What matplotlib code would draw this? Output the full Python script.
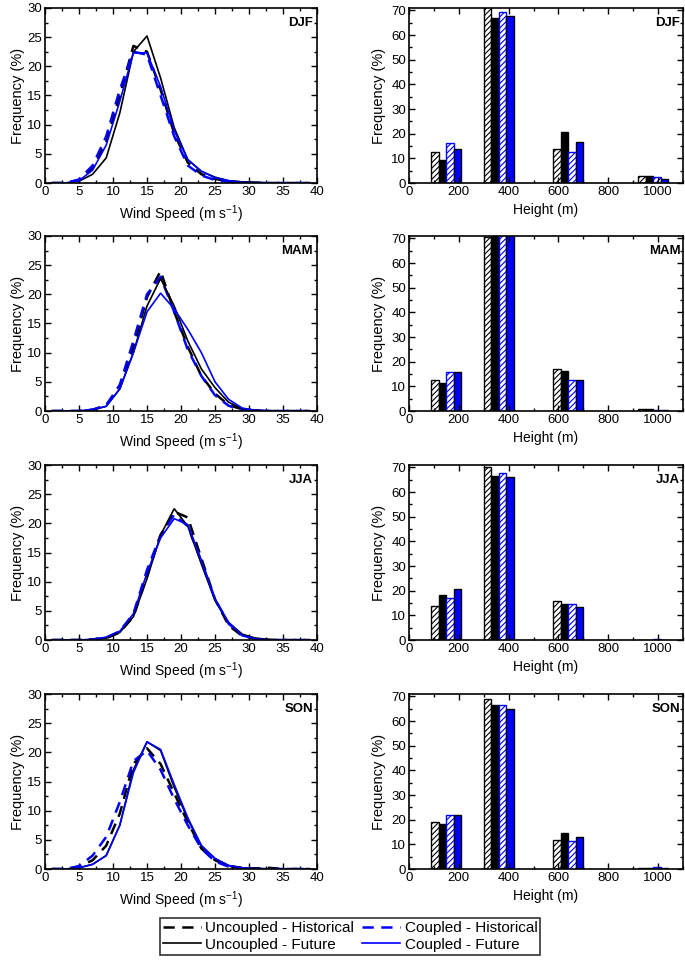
import matplotlib
matplotlib.use("Agg")
import matplotlib.pyplot as plt
from matplotlib.ticker import MultipleLocator
from matplotlib.lines import Line2D
import numpy as np

plt.rcParams['font.family'] = ['Liberation Sans', 'DejaVu Sans']
plt.rcParams['hatch.linewidth'] = 0.8
plt.rcParams['mathtext.fontset'] = 'custom'
plt.rcParams['mathtext.rm'] = 'Liberation Sans'

seasons = ["DJF", "MAM", "JJA", "SON"]

# Wind speed bin centres (m/s)
wind_bins = [1, 3, 5, 7, 9, 11, 13, 15, 17, 19, 21, 23, 25, 27, 29, 31, 33, 35, 37, 39]

# Wind speed frequency (%) per season: Uncoupled-Historical, Uncoupled-Future, Coupled-Historical, Coupled-Future
ws_unc_hist = {
    "DJF": [0, 0, 0.5, 2.5, 7.0, 15.0, 23.5, 22.5, 16.0, 8.5, 3.5, 1.5, 0.7, 0.3, 0.1, 0.05, 0, 0, 0, 0],
    "MAM": [0, 0, 0, 0.2, 1.0, 4.0, 11.0, 19.5, 24.0, 17.0, 11.0, 6.0, 3.0, 1.0, 0.3, 0.1, 0, 0, 0, 0],
    "JJA": [0, 0, 0, 0.1, 0.3, 1.3, 4.0, 11.0, 18.0, 22.0, 21.0, 14.0, 7.0, 2.5, 0.7, 0.2, 0, 0, 0, 0],
    "SON": [0, 0, 0.4, 1.5, 4.0, 9.5, 18.0, 20.7, 18.0, 13.0, 8.0, 3.5, 1.5, 0.5, 0.2, 0.1, 0.2, 0, 0, 0],
}
ws_unc_fut = {
    "DJF": [0, 0, 0.3, 1.5, 4.3, 12.0, 22.5, 25.2, 18.0, 9.5, 4.0, 2.0, 1.0, 0.4, 0.2, 0.1, 0, 0, 0, 0],
    "MAM": [0, 0, 0, 0.2, 0.8, 3.8, 10.0, 18.0, 22.7, 18.0, 12.0, 7.2, 4.0, 1.5, 0.4, 0.1, 0, 0, 0, 0],
    "JJA": [0, 0, 0, 0.1, 0.3, 1.3, 4.0, 10.5, 18.0, 22.5, 19.5, 13.0, 6.8, 3.0, 1.0, 0.3, 0.1, 0, 0, 0],
    "SON": [0, 0, 0.2, 0.8, 2.3, 7.5, 17.0, 21.8, 20.3, 14.0, 8.5, 4.0, 1.8, 0.6, 0.2, 0.1, 0, 0, 0, 0],
}
ws_cpl_hist = {
    "DJF": [0, 0, 0.6, 3.0, 8.0, 16.0, 22.5, 22.0, 15.0, 8.0, 3.0, 1.3, 0.5, 0.2, 0.1, 0, 0, 0, 0, 0],
    "MAM": [0, 0, 0, 0.2, 1.0, 4.5, 12.0, 20.0, 23.0, 17.0, 10.5, 6.0, 2.7, 0.9, 0.2, 0.1, 0, 0, 0, 0],
    "JJA": [0, 0, 0, 0.1, 0.4, 1.5, 4.5, 12.0, 18.0, 21.5, 19.5, 13.5, 7.0, 2.8, 0.8, 0.2, 0, 0, 0, 0],
    "SON": [0, 0, 0.5, 2.3, 5.5, 11.5, 18.5, 20.3, 17.0, 12.0, 7.5, 3.5, 1.3, 0.4, 0.1, 0, 0, 0, 0, 0],
}
ws_cpl_fut = {
    "DJF": [0, 0, 0.4, 2.2, 6.5, 14.0, 22.3, 22.3, 16.5, 9.0, 4.0, 2.0, 0.9, 0.4, 0.1, 0.05, 0, 0, 0, 0],
    "MAM": [0, 0, 0, 0.3, 0.8, 3.8, 10.0, 17.0, 20.2, 17.5, 14.0, 10.0, 5.0, 2.0, 0.5, 0.1, 0, 0, 0, 0],
    "JJA": [0, 0, 0, 0.1, 0.5, 1.5, 4.5, 11.5, 17.5, 20.8, 19.8, 13.5, 7.0, 3.0, 0.8, 0.2, 0, 0, 0, 0],
    "SON": [0, 0, 0.2, 0.8, 2.3, 7.5, 16.5, 21.8, 20.5, 14.5, 8.8, 4.0, 1.8, 0.6, 0.2, 0.05, 0, 0, 0, 0],
}

# Height bins (m) and frequency (%)
height_bins = [150, 360, 640, 980]
h_unc_hist = {
    "DJF": [12.6, 72.0, 13.8, 2.8],
    "MAM": [12.6, 70.5, 16.9, 0.7],
    "JJA": [13.8, 70.0, 15.9, 0.2],
    "SON": [18.9, 69.1, 11.6, 0.5],
}
h_unc_fut = {
    "DJF": [9.5, 66.9, 20.6, 3.0],
    "MAM": [11.3, 73.0, 16.4, 0.7],
    "JJA": [18.3, 66.7, 14.6, 0.2],
    "SON": [18.4, 66.5, 14.8, 0.5],
}
h_cpl_hist = {
    "DJF": [16.1, 69.2, 12.5, 2.3],
    "MAM": [16.0, 72.5, 12.7, 0.5],
    "JJA": [17.0, 67.9, 14.6, 0.3],
    "SON": [22.0, 66.5, 11.5, 0.8],
}
h_cpl_fut = {
    "DJF": [13.7, 67.7, 16.8, 1.7],
    "MAM": [15.8, 72.5, 12.7, 0.3],
    "JJA": [20.5, 66.3, 13.3, 0.2],
    "SON": [22.0, 64.9, 13.0, 0.6],
}

BLUE = "#0000ff"
fig = plt.figure(figsize=(6.85, 9.63), dpi=100)

bottoms = [1 - 183/963, 1 - 411/963, 1 - 640/963, 1 - 869/963]
height = 175/963
lx, lw = 45/685, 272/685
rx, rw = 409/685, 274/685

FS = 9.5
LFS = 10.5
dash = (0, (4.5, 3))

def style(ax):
    ax.tick_params(which='both', direction='in', top=True, right=True, labelsize=FS, pad=2)
    ax.tick_params(which='major', length=4, width=1)
    ax.tick_params(which='minor', length=2, width=1)
    for s in ax.spines.values():
        s.set_linewidth(1.2)

for i, s in enumerate(seasons):
    ax = fig.add_axes([lx, bottoms[i], lw, height])
    x = np.array(wind_bins)
    ax.plot(x, ws_unc_hist[s], color='black', lw=1.8, linestyle=dash)
    ax.plot(x, ws_cpl_hist[s], color=BLUE, lw=1.8, linestyle=dash)
    ax.plot(x, ws_unc_fut[s], color='black', lw=1.2)
    ax.plot(x, ws_cpl_fut[s], color=BLUE, lw=1.2)
    ax.set_xlim(0, 40)
    ax.set_ylim(0, 30)
    ax.xaxis.set_major_locator(MultipleLocator(5))
    ax.xaxis.set_minor_locator(MultipleLocator(2.5))
    ax.yaxis.set_major_locator(MultipleLocator(5))
    ax.yaxis.set_minor_locator(MultipleLocator(2.5))
    style(ax)
    ax.set_xlabel('Wind Speed (m s$^{\\mathregular{-1}}$)', fontsize=10, labelpad=4)
    ax.set_ylabel('Frequency (%)', fontsize=LFS, labelpad=2)
    ax.text(0.985, 0.95, s, transform=ax.transAxes, ha='right', va='top',
            fontsize=FS, fontweight='bold')

    ax = fig.add_axes([rx, bottoms[i], rw, height])
    hb = np.array(height_bins)
    w = 30
    ax.bar(hb - 45, h_unc_hist[s], width=w, color='white', edgecolor='black', hatch='//////', linewidth=1.0)
    ax.bar(hb - 15, h_unc_fut[s], width=w, color='black', edgecolor='black', linewidth=1.0)
    ax.bar(hb + 15, h_cpl_hist[s], width=w, color='white', edgecolor=BLUE, hatch='//////', linewidth=1.0)
    ax.bar(hb + 45, h_cpl_fut[s], width=w, color=BLUE, edgecolor='black', linewidth=1.0)
    ax.set_xlim(0, 1100)
    ax.set_ylim(0, 71)
    ax.xaxis.set_major_locator(MultipleLocator(200))
    ax.xaxis.set_minor_locator(MultipleLocator(100))
    ax.yaxis.set_major_locator(MultipleLocator(10))
    ax.yaxis.set_minor_locator(MultipleLocator(5))
    style(ax)
    ax.set_xlabel('Height (m)', fontsize=10, labelpad=4)
    ax.set_ylabel('Frequency (%)', fontsize=LFS, labelpad=4)
    ax.text(0.99, 0.95, s, transform=ax.transAxes, ha='right', va='top',
            fontsize=FS, fontweight='bold')

handles = [
    Line2D([], [], color='black', lw=1.8, linestyle=dash),
    Line2D([], [], color='black', lw=1.2),
    Line2D([], [], color=BLUE, lw=1.8, linestyle=dash),
    Line2D([], [], color=BLUE, lw=1.2),
]
labels = ["Uncoupled - Historical", "Uncoupled - Future",
          "Coupled - Historical", "Coupled - Future"]
leg = fig.legend(handles, labels, ncol=2, loc='center', bbox_to_anchor=(350/685, 1 - 936.5/963),
                 fontsize=11, frameon=True, fancybox=False, edgecolor='black',
                 handlelength=2.5, handletextpad=0.3, columnspacing=0.5,
                 labelspacing=0.15, borderpad=0.2, borderaxespad=0)
leg.get_frame().set_linewidth(1.2)

fig.savefig('out.png', dpi=100)
